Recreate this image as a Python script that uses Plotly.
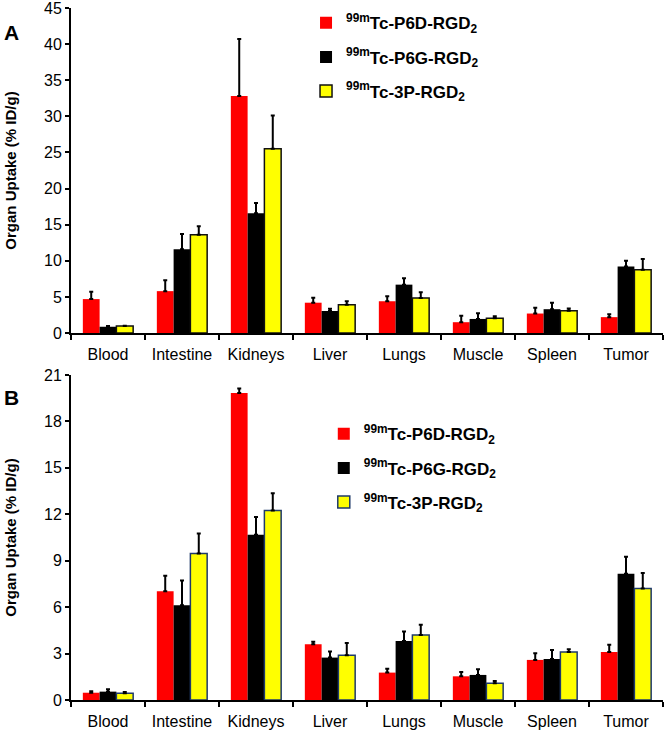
import plotly.graph_objects as go

organs = ['Blood', 'Intestine', 'Kidneys', 'Liver', 'Lungs', 'Muscle', 'Spleen', 'Tumor']
names = ['<b><sup>99m</sup>Tc-P6D-RGD<sub>2</sub></b>',
         '<b><sup>99m</sup>Tc-P6G-RGD<sub>2</sub></b>',
         '<b><sup>99m</sup>Tc-3P-RGD<sub>2</sub></b>']

# panel A
a_p6d = [4.7, 5.8, 32.8, 4.2, 4.4, 1.5, 2.7, 2.2]
a_p6d_sd = [1.0, 1.5, 7.9, 0.7, 0.7, 0.9, 0.8, 0.4]
a_p6g = [0.87, 11.6, 16.6, 3.05, 6.7, 1.95, 3.3, 9.2]
a_p6g_sd = [0.1, 2.1, 1.4, 0.3, 0.9, 0.8, 0.9, 0.8]
a_3p = [0.97, 13.6, 25.5, 3.9, 4.85, 2.03, 3.1, 8.75]
a_3p_sd = [0.05, 1.2, 4.6, 0.5, 0.8, 0.3, 0.3, 1.5]

# panel B
b_p6d = [0.47, 7.03, 19.84, 3.6, 1.77, 1.53, 2.59, 3.1]
b_p6d_sd = [0.1, 1.0, 0.28, 0.17, 0.25, 0.28, 0.43, 0.47]
b_p6g = [0.54, 6.12, 10.67, 2.74, 3.82, 1.62, 2.65, 8.15]
b_p6g_sd = [0.15, 1.6, 1.15, 0.4, 0.6, 0.36, 0.58, 1.1]
b_3p = [0.43, 9.46, 12.25, 2.89, 4.2, 1.08, 3.1, 7.2]
b_3p_sd = [0.08, 1.3, 1.1, 0.8, 0.67, 0.15, 0.18, 1.0]

colors = ['#ff0000', '#000000', '#ffff00']
FONT = 'Arial, Liberation Sans, sans-serif'

fig = go.Figure()

panels = [
    ('x', 'y', 'legend', [a_p6d, a_p6g, a_3p], [a_p6d_sd, a_p6g_sd, a_3p_sd], '#111111'),
    ('x2', 'y2', 'legend2', [b_p6d, b_p6g, b_3p], [b_p6d_sd, b_p6g_sd, b_3p_sd], '#1f3a6a'),
]
for xa, ya, leg, vals, sds, yel_edge in panels:
    for i in range(3):
        fig.add_trace(go.Bar(
            x=organs, y=vals[i], name=names[i],
            xaxis=xa, yaxis=ya, legend=leg, legendgroup=leg + str(i),
            marker=dict(color=colors[i],
                        line=dict(color=yel_edge if i == 2 else colors[i], width=1.5 if i == 2 else 0)),
            error_y=dict(type='data', symmetric=False, array=sds[i], arrayminus=[0] * 8,
                         color='black', thickness=2, width=2),
        ))

xaxis_style = dict(showline=True, linecolor='black', linewidth=2, ticks='outside',
                   tickson='boundaries', ticklen=5, tickwidth=2, tickcolor='black',
                   tickfont=dict(family=FONT, size=16, color='black'), showgrid=False,
                   ticklabelstandoff=6, domain=[0, 1], automargin=False)
yaxis_style = dict(showline=True, linecolor='black', linewidth=2, ticks='outside',
                   ticklen=4, tickwidth=2, tickcolor='black', showgrid=False, zeroline=False,
                   tickfont=dict(family=FONT, size=16, color='black'), automargin=False,
                   ticklabeloverflow='allow',
                   title=dict(text='<b>Organ Uptake (% ID/g)</b>', standoff=24,
                              font=dict(family=FONT, size=15, color='black')))

legend_style = dict(font=dict(family=FONT, size=17, color='black'), bgcolor='rgba(0,0,0,0)',
                    tracegroupgap=9, traceorder='grouped', xanchor='left', yanchor='top',
                    itemwidth=30)

fig.update_layout(
    width=666, height=731,
    margin=dict(l=71, r=3, t=8, b=31, autoexpand=False),
    plot_bgcolor='white', paper_bgcolor='white',
    barmode='group', bargap=0.32, bargroupgap=0,
    xaxis=dict(xaxis_style, anchor='y'),
    yaxis=dict(yaxis_style, domain=[0.5303, 1], range=[0, 45], dtick=5, anchor='x'),
    xaxis2=dict(xaxis_style, anchor='y2'),
    yaxis2=dict(yaxis_style, domain=[0, 0.4697], range=[0, 21], dtick=3, anchor='x2'),
    legend=dict(legend_style, x=0.397, y=1.004),
    legend2=dict(legend_style, x=0.427, y=0.41),
    showlegend=True,
    annotations=[
        dict(xref='paper', yref='paper', x=-0.10, y=0.965, text='<b>A</b>', showarrow=False,
             xanchor='center', yanchor='middle', font=dict(family=FONT, size=21, color='black')),
        dict(xref='paper', yref='paper', x=-0.10, y=0.437, text='<b>B</b>', showarrow=False,
             xanchor='center', yanchor='middle', font=dict(family=FONT, size=21, color='black')),
    ],
)

fig.write_html('out.html', config={'displayModeBar': False},
               post_script="document.body.style.margin='0';")
